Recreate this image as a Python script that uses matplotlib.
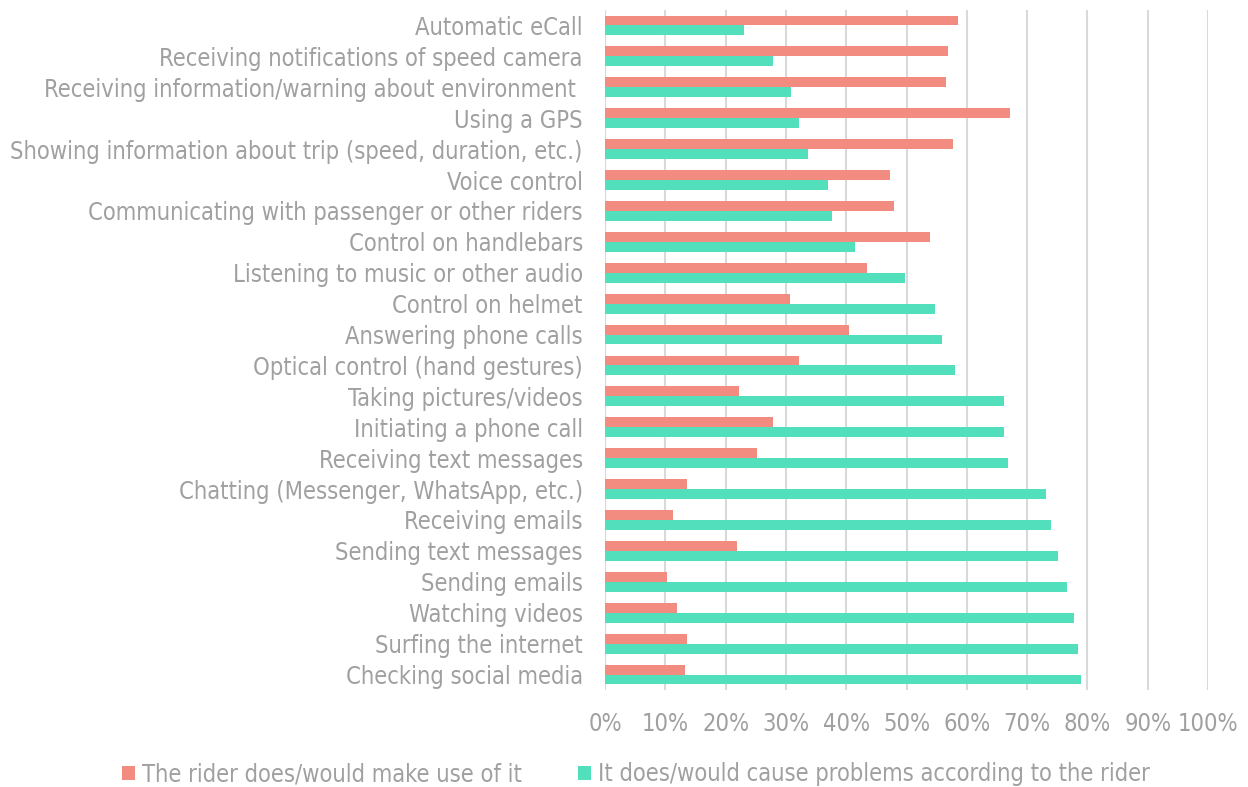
import numpy as np
import matplotlib
matplotlib.use("Agg")
import matplotlib.pyplot as plt
from matplotlib.ticker import PercentFormatter

categories = [
    "Automatic eCall",
    "Receiving notifications of speed camera",
    "Receiving information/warning about environment ",
    "Using a GPS",
    "Showing information about trip (speed, duration, etc.)",
    "Voice control",
    "Communicating with passenger or other riders",
    "Control on handlebars",
    "Listening to music or other audio",
    "Control on helmet",
    "Answering phone calls",
    "Optical control (hand gestures)",
    "Taking pictures/videos",
    "Initiating a phone call",
    "Receiving text messages",
    "Chatting (Messenger, WhatsApp, etc.)",
    "Receiving emails",
    "Sending text messages",
    "Sending emails",
    "Watching videos",
    "Surfing the internet",
    "Checking social media",
]

# percent of riders
make_use = [58.5, 56.9, 56.6, 67.2, 57.7, 47.2, 47.9, 53.9, 43.4, 30.6, 40.4,
            32.1, 22.2, 27.9, 25.2, 13.6, 11.3, 21.9, 10.2, 12.0, 13.6, 13.2]
problems = [23.0, 27.9, 30.9, 32.1, 33.6, 36.9, 37.7, 41.5, 49.8, 54.7, 55.9,
            58.1, 66.1, 66.1, 66.8, 73.2, 74.0, 75.1, 76.6, 77.7, 78.5, 78.9]

legend_labels = ["The rider does/would make use of it",
                 "It does/would cause problems according to the rider"]
red = "#F28C81"
green = "#52E0BC"
grey = "#a0a0a0"

plt.rcParams['font.family'] = ['DejaVu Sans']
plt.rcParams['font.stretch'] = 'condensed'

fig = plt.figure(figsize=(12.48, 7.87), dpi=100)
ax = fig.add_axes([605 / 1248, 1 - 690 / 787, 603 / 1248, 680 / 787])

y = np.arange(len(categories))
h = 0.32
ax.barh(y - h / 2, make_use, height=h, color=red, label=legend_labels[0], zorder=3)
ax.barh(y + h / 2, problems, height=h, color=green, label=legend_labels[1], zorder=3)

ax.set_ylim(len(categories) - 0.5, -0.5)
ax.set_xlim(0, 100)
ax.set_xticks(np.arange(0, 101, 10))
ax.xaxis.set_major_formatter(PercentFormatter(decimals=0))
ax.set_yticks(y)
ax.set_yticklabels(categories)

ax.grid(axis="x", color="#d9d9d9", linewidth=1.5, zorder=0)
for s in ax.spines.values():
    s.set_visible(False)
ax.axvline(0, color="#d9d9d9", linewidth=1.5, zorder=1)
ax.tick_params(axis="both", length=0, labelsize=17, labelcolor=grey)
ax.tick_params(axis="y", pad=16)
ax.tick_params(axis="x", pad=16)

fig.legend(loc="center", bbox_to_anchor=(636 / 1248, 1 - 774 / 787), ncol=2,
           frameon=False, fontsize=17, labelcolor=grey, handlelength=0.55,
           handleheight=0.55, handletextpad=0.3, columnspacing=2.4)

fig.savefig("out.png", dpi=100)
